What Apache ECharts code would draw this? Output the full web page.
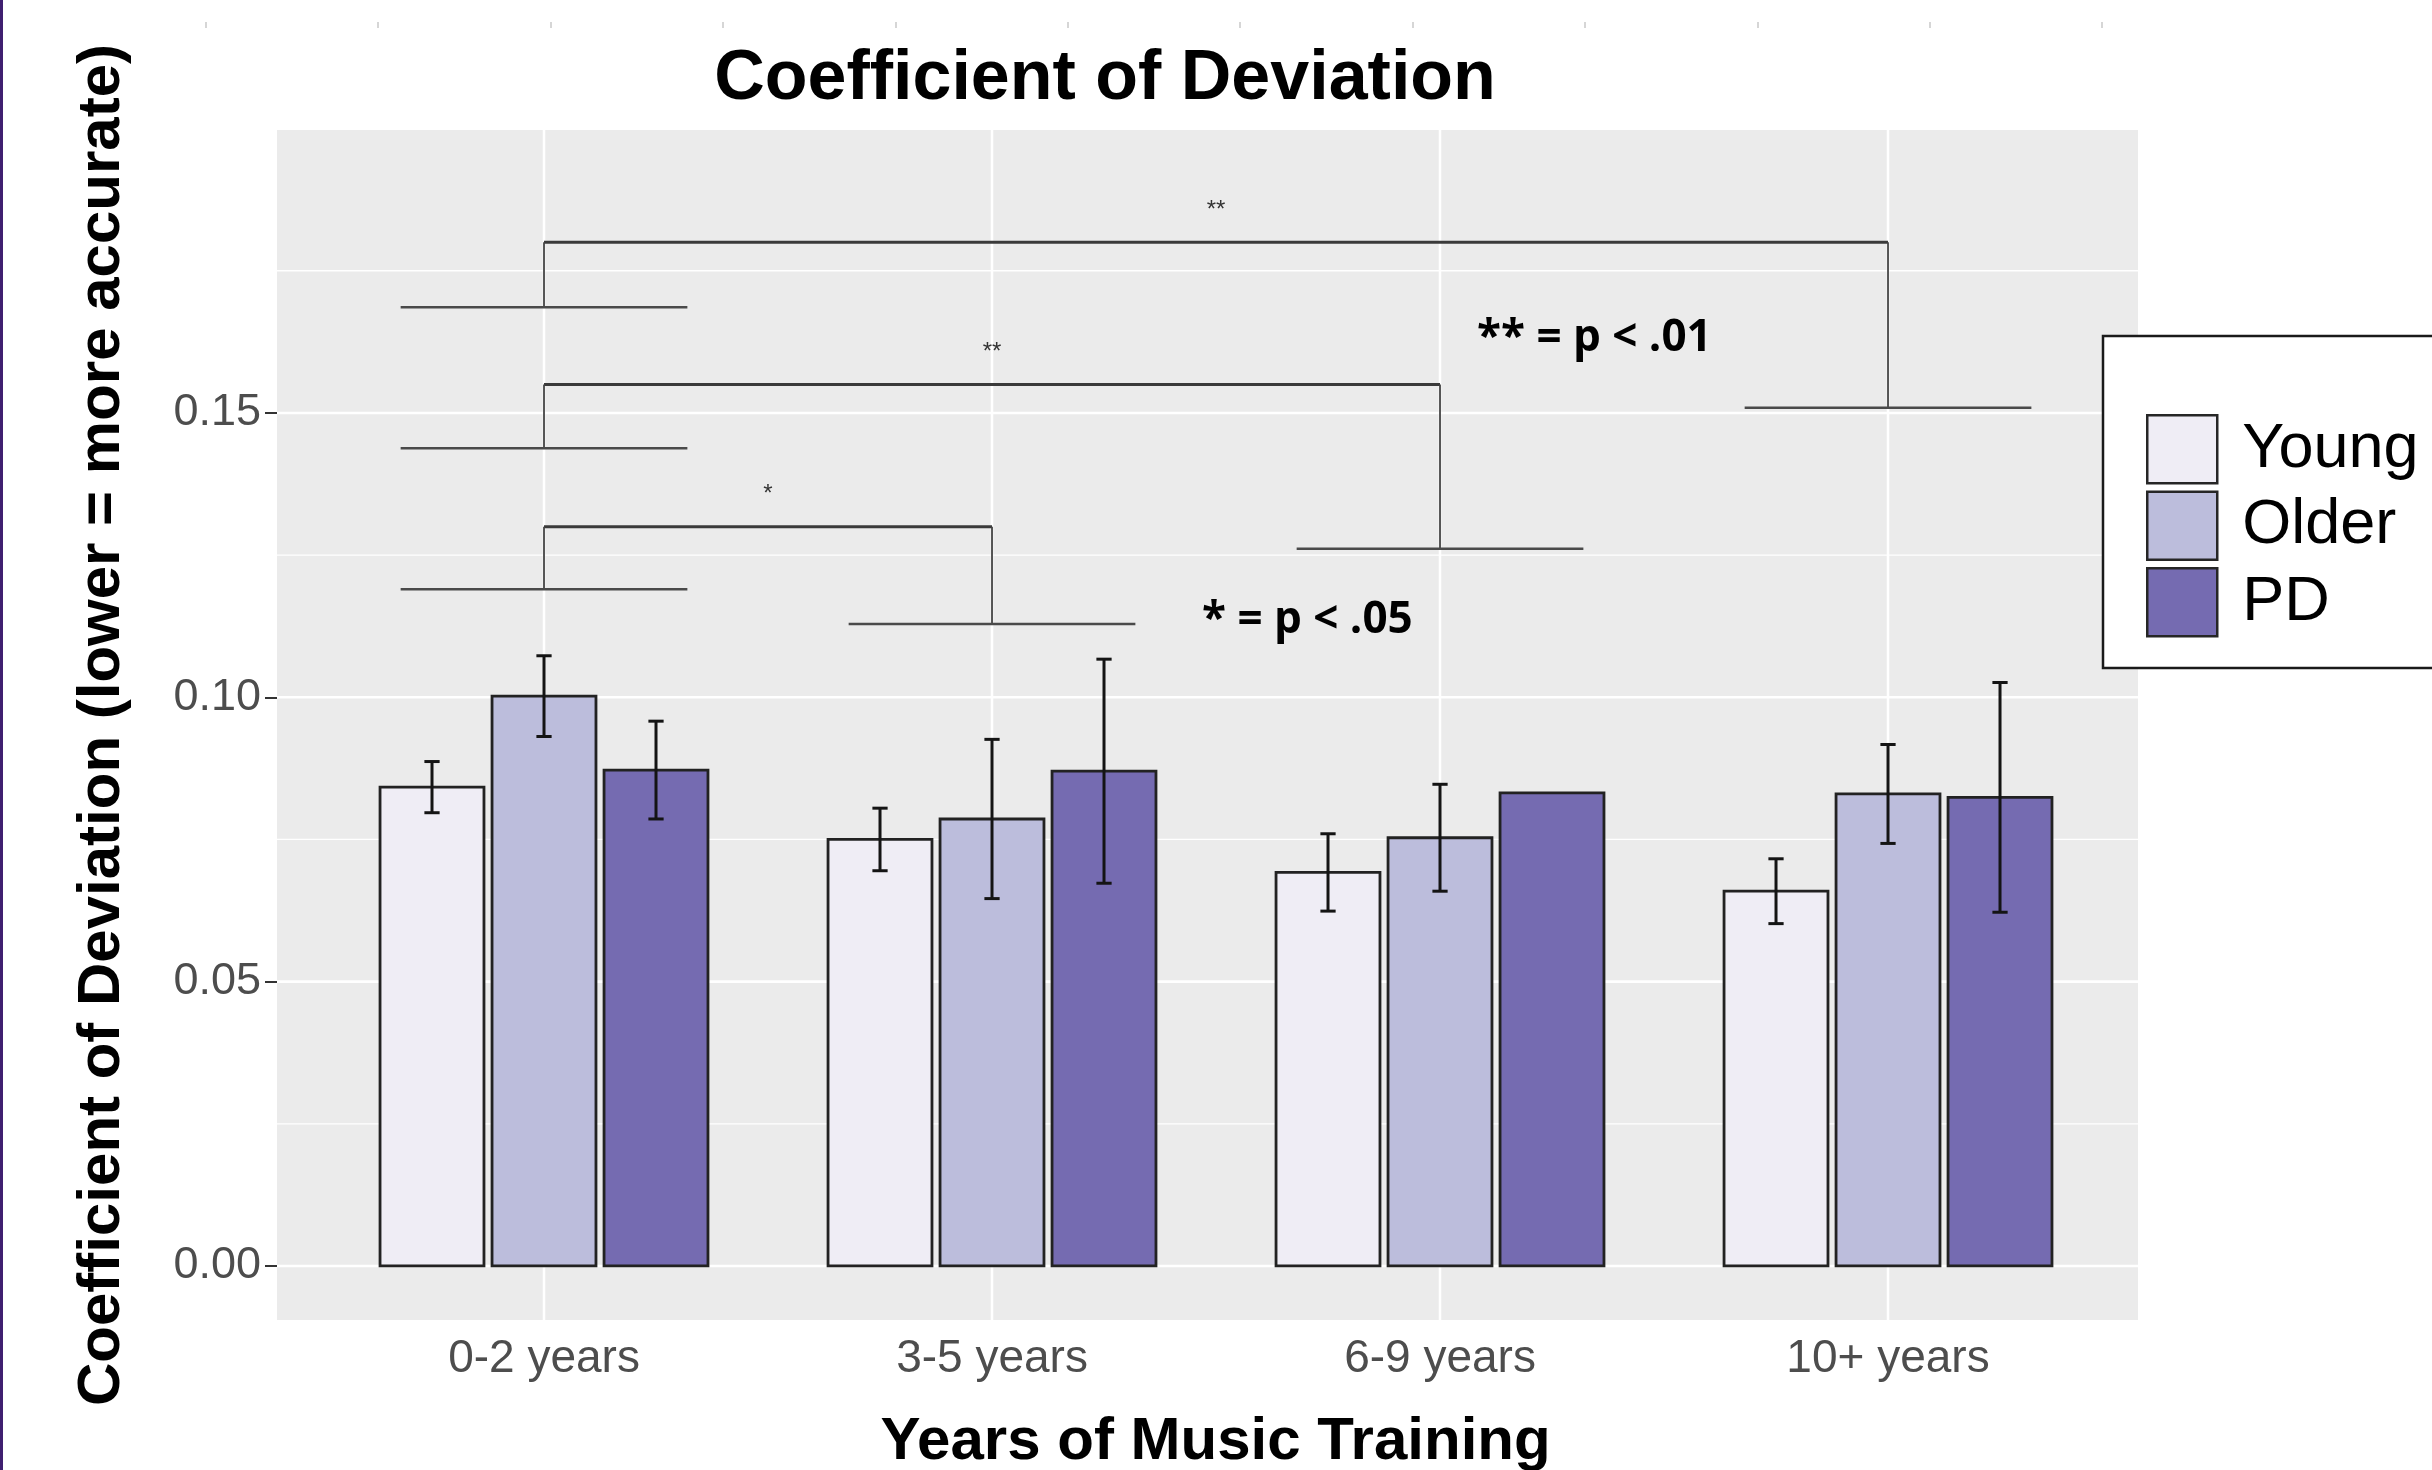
<!DOCTYPE html>
<html>
<head>
<meta charset="utf-8">
<title>Coefficient of Deviation</title>
<script src="https://cdn.jsdelivr.net/npm/echarts@6/dist/echarts.min.js"></script>
<style>
  html, body { margin: 0; padding: 0; background: #ffffff; }
  #chart { width: 2432px; height: 1470px; }
</style>
</head>
<body>
<div id="chart"></div>
<script>
// ---- data ----
const categories = ['0-2 years', '3-5 years', '6-9 years', '10+ years'];
const groups = ['Young', 'Older', 'PD'];

const youngMean = [0.0842, 0.0750, 0.0692, 0.0659];
const youngSE   = [0.0045, 0.0055, 0.0068, 0.0057];
const olderMean = [0.1002, 0.0786, 0.0753, 0.0830];
const olderSE   = [0.0071, 0.0140, 0.0094, 0.0087];
const pdMean    = [0.0872, 0.0870, 0.0832, 0.0824];
const pdSE      = [0.0086, 0.0197, null,   0.0202];

const yTickValues  = [0, 0.05, 0.10, 0.15];
const yMinorValues = [0.025, 0.075, 0.125, 0.175];

// pairwise comparisons between training groups (1-based category positions)
const sigFrom      = [1, 1, 1];
const sigTo        = [4, 3, 2];
const sigTop       = [0.180, 0.155, 0.130];
const sigLeftBase  = [0.1686, 0.1438, 0.1190];
const sigRightBase = [0.1509, 0.1261, 0.1129];
const sigMarks     = ['**', '**', '*'];
const sigKey       = ['** = p < .01', '* = p < .05'];

// ---- styling ----
const fills = ['#EFEDF5', '#BCBDDC', '#756BB1'];
const means = [youngMean, olderMean, pdMean];
const ses = [youngSE, olderSE, pdSE];
const DODGE = 0.25;      // spacing between dodged bars (axis units)
const BAR_W = 0.232;     // bar width (axis units)
const CAP_W = 0.034;     // error bar cap width (axis units)
const BASE_HALF = 0.32;  // half-width of bracket foot lines (axis units)
const catPos = categories.map((_, i) => i + 1);
const FONT = '"Liberation Sans", Arial, Helvetica, sans-serif';

const chart = echarts.init(document.getElementById('chart'), null, { renderer: 'canvas' });

function hLineSeries(values, width) {
  return {
    type: 'custom', silent: true, z: 1,
    data: values.map(v => [1, v]),
    encode: { x: 0, y: 1 },
    renderItem: (params, api) => {
      const cs = params.coordSys;
      const y = api.coord([1, api.value(1)])[1];
      return { type: 'line', shape: { x1: cs.x, y1: y, x2: cs.x + cs.width, y2: y },
               style: { stroke: '#FFFFFF', lineWidth: width } };
    }
  };
}

const vGridSeries = {
  type: 'custom', silent: true, z: 1,
  data: catPos.map(p => [p, 0]),
  encode: { x: 0, y: 1 },
  renderItem: (params, api) => {
    const cs = params.coordSys;
    const x = api.coord([api.value(0), 0])[0];
    return { type: 'line', shape: { x1: x, y1: cs.y, x2: x, y2: cs.y + cs.height },
             style: { stroke: '#FFFFFF', lineWidth: 2.5 } };
  }
};

const barSeries = groups.map((g, gi) => ({
  name: g, type: 'custom', z: 2,
  data: means[gi].map((m, i) => [catPos[i], m]),
  encode: { x: 0, y: 1 },
  itemStyle: { color: fills[gi] },
  renderItem: (params, api) => {
    const xc = api.value(0) + (gi - 1) * DODGE;
    const p0 = api.coord([xc - BAR_W / 2, api.value(1)]);
    const p1 = api.coord([xc + BAR_W / 2, 0]);
    return { type: 'rect',
             shape: { x: p0[0], y: p0[1], width: p1[0] - p0[0], height: p1[1] - p0[1] },
             style: { fill: fills[gi], stroke: '#222222', lineWidth: 2.8 } };
  }
}));

const errSeries = groups.map((g, gi) => ({
  name: g, type: 'custom', z: 3,
  data: means[gi].map((m, i) => [catPos[i], m, ses[gi][i] == null ? 0 : ses[gi][i]]),
  encode: { x: 0, y: 1 },
  renderItem: (params, api) => {
    const se = api.value(2);
    if (!se) return null;
    const xc = api.value(0) + (gi - 1) * DODGE;
    const m = api.value(1);
    const top = api.coord([xc, m + se]);
    const bot = api.coord([xc, m - se]);
    const capL = api.coord([xc - CAP_W / 2, 0])[0];
    const capR = api.coord([xc + CAP_W / 2, 0])[0];
    const st = { stroke: '#141414', lineWidth: 3 };
    return { type: 'group', children: [
      { type: 'line', shape: { x1: top[0], y1: top[1], x2: bot[0], y2: bot[1] }, style: st },
      { type: 'line', shape: { x1: capL, y1: top[1], x2: capR, y2: top[1] }, style: st },
      { type: 'line', shape: { x1: capL, y1: bot[1], x2: capR, y2: bot[1] }, style: st }
    ] };
  }
}));

const bracketSeries = {
  type: 'custom', silent: true, z: 4,
  data: sigFrom.map((f, i) => [f, sigTo[i], sigTop[i], sigLeftBase[i], sigRightBase[i]]),
  encode: { x: [0, 1], y: [2, 3, 4] },
  renderItem: (params, api) => {
    const i = params.dataIndex;
    const a = api.value(0), b = api.value(1);
    const top = api.value(2), lb = api.value(3), rb = api.value(4);
    const pA = api.coord([a, top]), pB = api.coord([b, top]);
    const pLB = api.coord([a, lb]), pRB = api.coord([b, rb]);
    const lbL = api.coord([a - BASE_HALF, lb]), lbR = api.coord([a + BASE_HALF, lb]);
    const rbL = api.coord([b - BASE_HALF, rb]), rbR = api.coord([b + BASE_HALF, rb]);
    const mark = api.coord([(a + b) / 2, top + 0.0057]);
    return { type: 'group', children: [
      { type: 'line', shape: { x1: pA[0], y1: pA[1], x2: pB[0], y2: pB[1] },
        style: { stroke: '#3a3a3a', lineWidth: 3 } },
      { type: 'line', shape: { x1: pA[0], y1: pA[1], x2: pLB[0], y2: pLB[1] },
        style: { stroke: '#444444', lineWidth: 1.8 } },
      { type: 'line', shape: { x1: pB[0], y1: pB[1], x2: pRB[0], y2: pRB[1] },
        style: { stroke: '#444444', lineWidth: 1.8 } },
      { type: 'line', shape: { x1: lbL[0], y1: lbL[1], x2: lbR[0], y2: lbR[1] },
        style: { stroke: '#4a4a4a', lineWidth: 2.5 } },
      { type: 'line', shape: { x1: rbL[0], y1: rbL[1], x2: rbR[0], y2: rbR[1] },
        style: { stroke: '#4a4a4a', lineWidth: 2.5 } },
      { type: 'text', x: mark[0], y: mark[1],
        style: { text: sigMarks[i], fill: '#333333', font: '24px ' + FONT,
                 align: 'center', verticalAlign: 'middle' } }
    ] };
  }
};

// small ruler marks along the top edge
const rulerMarks = [];
for (let k = 0; k < 12; k++) {
  const x = Math.round(206 + k * 172.4);
  rulerMarks.push({ type: 'line', shape: { x1: x, y1: 22, x2: x, y2: 28 },
                    style: { stroke: '#c8c8c8', lineWidth: 1.5 }, silent: true });
}

const option = {
  backgroundColor: '#FFFFFF',
  animation: false,
  grid: { left: 277, right: 294, top: 130, bottom: 150, show: true,
          outerBoundsMode: 'none', containLabel: false,
          backgroundColor: '#EBEBEB', borderWidth: 0 },
  xAxis: {
    type: 'value', min: 0.404, max: 4.558,
    name: 'Years of Music Training', nameLocation: 'middle', nameGap: 92,
    nameTextStyle: { fontFamily: FONT, fontWeight: 'bold', fontSize: 60, color: '#000', lineHeight: 60,
                     padding: [0, 0, 0, 16] },
    axisLine: { show: false },
    splitLine: { show: false },
    axisTick: { show: true, customValues: catPos, length: 11, lineStyle: { color: '#333333', width: 2 } },
    axisLabel: { show: true, customValues: catPos, margin: 16,
                 formatter: v => categories[Math.round(v) - 1],
                 fontFamily: FONT, fontSize: 46, color: '#4D4D4D' }
  },
  yAxis: {
    type: 'value', min: -0.0095, max: 0.19975,
    name: 'Coefficient of Deviation (lower = more accurate)', nameLocation: 'middle', nameGap: 145,
    nameTextStyle: { fontFamily: FONT, fontWeight: 'bold', fontSize: 60, color: '#000', lineHeight: 60 },
    axisLine: { show: false },
    splitLine: { show: false },
    axisTick: { show: true, customValues: yTickValues, length: 12, lineStyle: { color: '#333333', width: 2 } },
    axisLabel: { show: true, customValues: yTickValues, margin: 16,
                 formatter: v => v.toFixed(2),
                 fontFamily: FONT, fontSize: 45, color: '#4D4D4D' }
  },
  legend: {
    orient: 'vertical', left: 2146, top: 414, padding: 0, z: 10,
    data: groups.map((g, gi) => ({ name: g, icon: 'rect',
      itemStyle: { color: fills[gi], borderColor: '#262626', borderWidth: 2.5 } })),
    itemWidth: 70, itemHeight: 68, itemGap: 6,
    textStyle: { fontFamily: FONT, fontSize: 63, color: '#000', lineHeight: 68, padding: [0, 0, 0, 20] }
  },
  graphic: [
    { type: 'rect', left: 0, top: 0, shape: { x: 0, y: 0, width: 3, height: 1470 },
      style: { fill: '#3f1f70' }, silent: true },
    ...rulerMarks,
    { type: 'rect', shape: { x: 2103, y: 336, width: 360, height: 332 },
      style: { fill: '#FFFFFF', stroke: '#1a1a1a', lineWidth: 2.5 }, silent: true, z: 6 },
    { type: 'text', x: 1105, y: 80,
      style: { text: 'Coefficient of Deviation', font: 'bold 70px ' + FONT, fill: '#000',
               align: 'center', verticalAlign: 'middle' } },
    { type: 'text', x: 1477, y: 338,
      style: { text: sigKey[0], font: 'bold 44px "Open Sans", sans-serif', fill: '#000',
               align: 'left', verticalAlign: 'middle' } },
    { type: 'text', x: 1202, y: 620,
      style: { text: sigKey[1], font: 'bold 44px "Open Sans", sans-serif', fill: '#000',
               align: 'left', verticalAlign: 'middle' } }
  ],
  series: [
    hLineSeries(yMinorValues, 1.3),
    hLineSeries(yTickValues, 2.6),
    vGridSeries,
    ...barSeries,
    ...errSeries,
    bracketSeries
  ]
};

chart.setOption(option);
</script>
</body>
</html>
